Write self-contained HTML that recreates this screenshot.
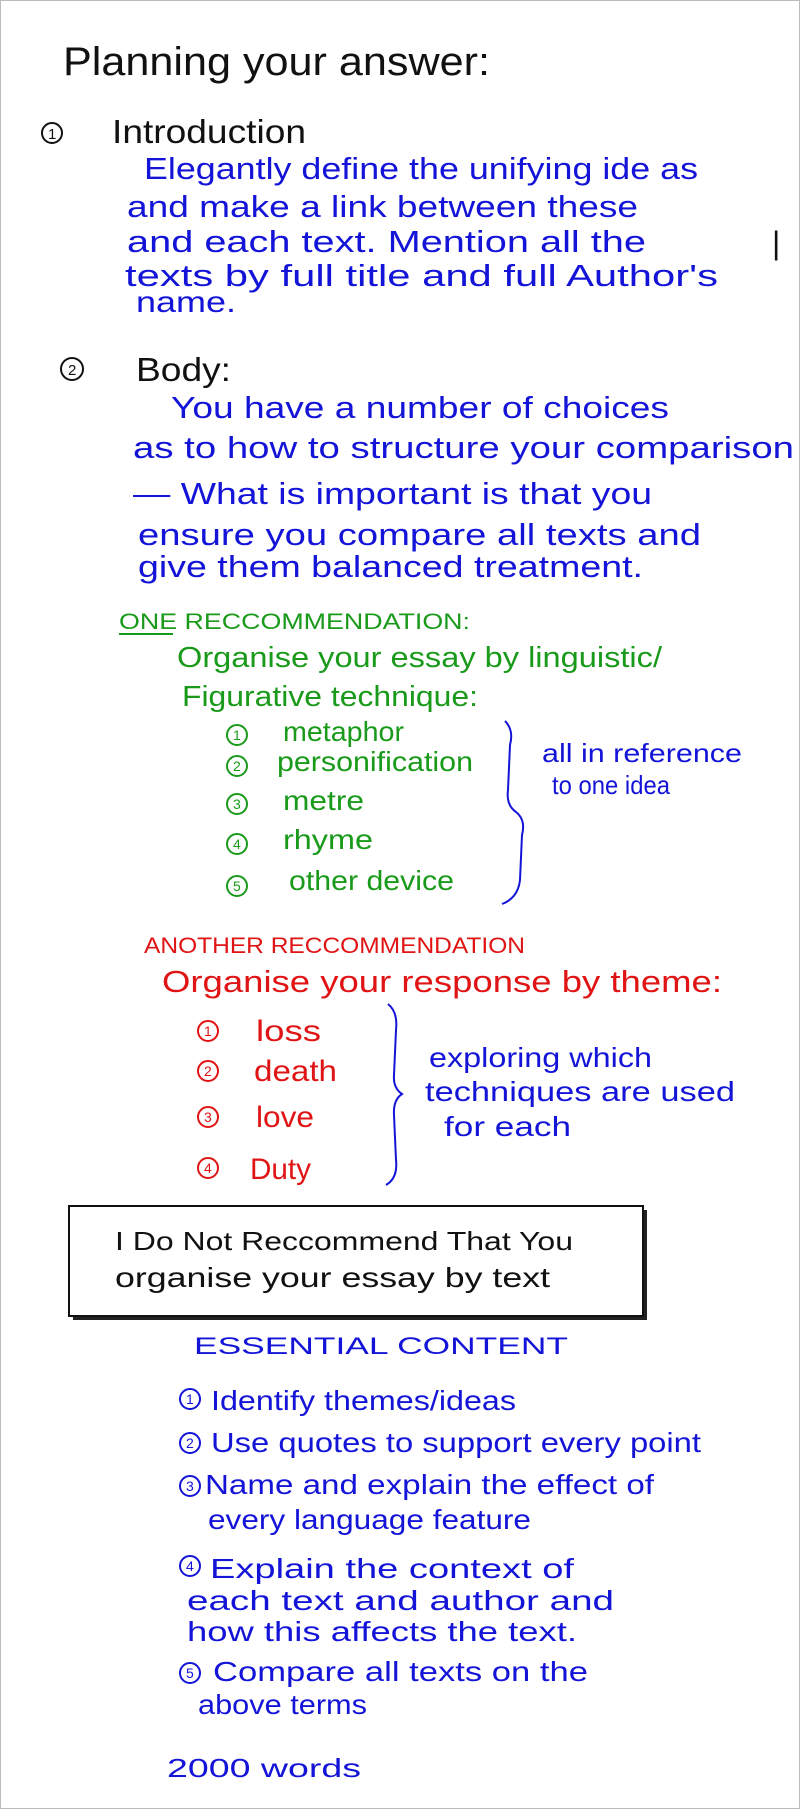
<!DOCTYPE html>
<html><head><meta charset="utf-8"><style>
html,body{margin:0;padding:0;background:#fff}
svg{display:block}
text{font-family:"Liberation Sans",sans-serif}
.k{fill:#111}.b{fill:#1414d8}.g{fill:#1a9a1a}.r{fill:#e01414}
</style></head><body>
<svg width="800" height="1809" viewBox="0 0 800 1809" xmlns="http://www.w3.org/2000/svg">
<rect x="0.5" y="0.5" width="799" height="1808" fill="#fff" stroke="#bbb"/>
<text class="k" x="63" y="75" font-size="40" textLength="427" lengthAdjust="spacingAndGlyphs">Planning your answer:</text>
<circle cx="52" cy="133" r="10" fill="none" stroke="#111" stroke-width="2"/><text class="k" x="48" y="139" font-size="15">1</text>
<text class="k" x="112" y="143" font-size="33" textLength="194" lengthAdjust="spacingAndGlyphs">Introduction</text>
<text class="b" x="144" y="179" font-size="31" textLength="554" lengthAdjust="spacingAndGlyphs">Elegantly define the unifying ide as</text>
<text class="b" x="127" y="217" font-size="31" textLength="511" lengthAdjust="spacingAndGlyphs">and  make a link between these</text>
<text class="b" x="127" y="252" font-size="31" textLength="519" lengthAdjust="spacingAndGlyphs">and each text. Mention all the</text>
<text class="b" x="125" y="286" font-size="31" textLength="593" lengthAdjust="spacingAndGlyphs">texts by full title and full Author's</text>
<text class="b" x="136" y="312" font-size="30" textLength="100" lengthAdjust="spacingAndGlyphs">name.</text>
<text class="k" x="772" y="254" font-size="32">|</text>
<circle cx="72" cy="369" r="11" fill="none" stroke="#111" stroke-width="2"/><text class="k" x="68" y="375" font-size="15">2</text>
<text class="k" x="136" y="381" font-size="33" textLength="95" lengthAdjust="spacingAndGlyphs">Body:</text>
<text class="b" x="171" y="418" font-size="31" textLength="498" lengthAdjust="spacingAndGlyphs">You have a number of choices</text>
<text class="b" x="133" y="458" font-size="31" textLength="661" lengthAdjust="spacingAndGlyphs">as to how to structure your comparison</text>
<text class="b" x="133" y="504" font-size="31" textLength="519" lengthAdjust="spacingAndGlyphs">— What is important is that you</text>
<text class="b" x="138" y="545" font-size="31" textLength="563" lengthAdjust="spacingAndGlyphs">ensure you compare all texts and</text>
<text class="b" x="138" y="577" font-size="31" textLength="505" lengthAdjust="spacingAndGlyphs">give them balanced treatment.</text>
<text class="g" x="119" y="629" font-size="22" textLength="351" lengthAdjust="spacingAndGlyphs">ONE RECCOMMENDATION:</text>
<line x1="119" y1="634" x2="173" y2="634" stroke="#1a9a1a" stroke-width="2"/>
<text class="g" x="177" y="667" font-size="29" textLength="485" lengthAdjust="spacingAndGlyphs">Organise your essay by linguistic/</text>
<text class="g" x="182" y="706" font-size="29" textLength="296" lengthAdjust="spacingAndGlyphs">Figurative technique:</text>
<g fill="none" stroke="#1a9a1a" stroke-width="2">
<circle cx="237" cy="735" r="10"/><circle cx="237" cy="766" r="10"/><circle cx="237" cy="804" r="10"/><circle cx="237" cy="844" r="10"/><circle cx="237" cy="886" r="10"/>
</g>
<g class="g" font-size="14"><text x="233" y="740">1</text><text x="233" y="771">2</text><text x="233" y="809">3</text><text x="233" y="849">4</text><text x="233" y="891">5</text></g>
<text class="g" x="283" y="741" font-size="28" textLength="121" lengthAdjust="spacingAndGlyphs">metaphor</text>
<text class="g" x="277" y="771" font-size="28" textLength="196" lengthAdjust="spacingAndGlyphs">personification</text>
<text class="g" x="283" y="810" font-size="28" textLength="81" lengthAdjust="spacingAndGlyphs">metre</text>
<text class="g" x="283" y="849" font-size="28" textLength="90" lengthAdjust="spacingAndGlyphs">rhyme</text>
<text class="g" x="289" y="890" font-size="28" textLength="165" lengthAdjust="spacingAndGlyphs">other device</text>
<path d="M505 721 Q514 730 510 745 L508 790 Q506 805 516 812 Q526 820 522 835 L520 880 Q518 898 502 904" fill="none" stroke="#1414d8" stroke-width="2"/>
<text class="b" x="542" y="762" font-size="26" textLength="200" lengthAdjust="spacingAndGlyphs">all in reference</text>
<text class="b" x="552" y="794" font-size="26" textLength="118" lengthAdjust="spacingAndGlyphs">to one idea</text>
<text class="r" x="144" y="953" font-size="22" textLength="381" lengthAdjust="spacingAndGlyphs">ANOTHER RECCOMMENDATION</text>
<text class="r" x="162" y="992" font-size="31" textLength="560" lengthAdjust="spacingAndGlyphs">Organise your response by theme:</text>
<g fill="none" stroke="#e01414" stroke-width="2">
<circle cx="208" cy="1031" r="10"/><circle cx="208" cy="1071" r="10"/><circle cx="208" cy="1117" r="10"/><circle cx="208" cy="1168" r="10"/>
</g>
<g class="r" font-size="14"><text x="204" y="1036">1</text><text x="204" y="1076">2</text><text x="204" y="1122">3</text><text x="204" y="1173">4</text></g>
<text class="r" x="256" y="1041" font-size="30" textLength="65" lengthAdjust="spacingAndGlyphs">loss</text>
<text class="r" x="254" y="1081" font-size="30" textLength="83" lengthAdjust="spacingAndGlyphs">death</text>
<text class="r" x="256" y="1127" font-size="30" textLength="58" lengthAdjust="spacingAndGlyphs">love</text>
<text class="r" x="250" y="1179" font-size="30" textLength="61" lengthAdjust="spacingAndGlyphs">Duty</text>
<path d="M388 1004 Q398 1012 396 1030 L394 1075 Q393 1088 402 1094 Q393 1100 394 1115 L396 1160 Q398 1178 386 1185" fill="none" stroke="#1414d8" stroke-width="2"/>
<text class="b" x="429" y="1067" font-size="28" textLength="223" lengthAdjust="spacingAndGlyphs">exploring which</text>
<text class="b" x="425" y="1101" font-size="28" textLength="310" lengthAdjust="spacingAndGlyphs">techniques are used</text>
<text class="b" x="444" y="1136" font-size="28" textLength="127" lengthAdjust="spacingAndGlyphs">for each</text>
<rect x="73" y="1210" width="574" height="110" fill="#222"/>
<rect x="69" y="1206" width="574" height="110" fill="#fff" stroke="#111" stroke-width="2"/>
<text class="k" x="115" y="1250" font-size="26" textLength="458" lengthAdjust="spacingAndGlyphs">I Do Not Reccommend That You</text>
<text class="k" x="115" y="1287" font-size="28" textLength="435" lengthAdjust="spacingAndGlyphs">organise your essay by text</text>
<text class="b" x="194" y="1354" font-size="24" textLength="374" lengthAdjust="spacingAndGlyphs">ESSENTIAL CONTENT</text>
<g fill="none" stroke="#1414d8" stroke-width="2">
<circle cx="190" cy="1399" r="10"/><circle cx="190" cy="1443" r="10"/><circle cx="190" cy="1486" r="10"/><circle cx="190" cy="1566" r="10"/><circle cx="190" cy="1673" r="10"/>
</g>
<g class="b" font-size="14"><text x="186" y="1404">1</text><text x="186" y="1448">2</text><text x="186" y="1491">3</text><text x="186" y="1571">4</text><text x="186" y="1678">5</text></g>
<text class="b" x="211" y="1410" font-size="28" textLength="305" lengthAdjust="spacingAndGlyphs">Identify themes/ideas</text>
<text class="b" x="211" y="1452" font-size="28" textLength="490" lengthAdjust="spacingAndGlyphs">Use quotes to support every point</text>
<text class="b" x="205" y="1494" font-size="28" textLength="449" lengthAdjust="spacingAndGlyphs">Name and explain the effect of</text>
<text class="b" x="208" y="1529" font-size="28" textLength="323" lengthAdjust="spacingAndGlyphs">every language feature</text>
<text class="b" x="210" y="1578" font-size="28" textLength="364" lengthAdjust="spacingAndGlyphs">Explain the context of</text>
<text class="b" x="187" y="1610" font-size="28" textLength="427" lengthAdjust="spacingAndGlyphs">each text and author and</text>
<text class="b" x="187" y="1641" font-size="28" textLength="390" lengthAdjust="spacingAndGlyphs">how this affects the text.</text>
<text class="b" x="213" y="1681" font-size="28" textLength="375" lengthAdjust="spacingAndGlyphs">Compare all texts on the</text>
<text class="b" x="198" y="1714" font-size="28" textLength="169" lengthAdjust="spacingAndGlyphs">above terms</text>
<text class="b" x="167" y="1777" font-size="26" textLength="194" lengthAdjust="spacingAndGlyphs">2000 words</text>
</svg>
</body></html>
